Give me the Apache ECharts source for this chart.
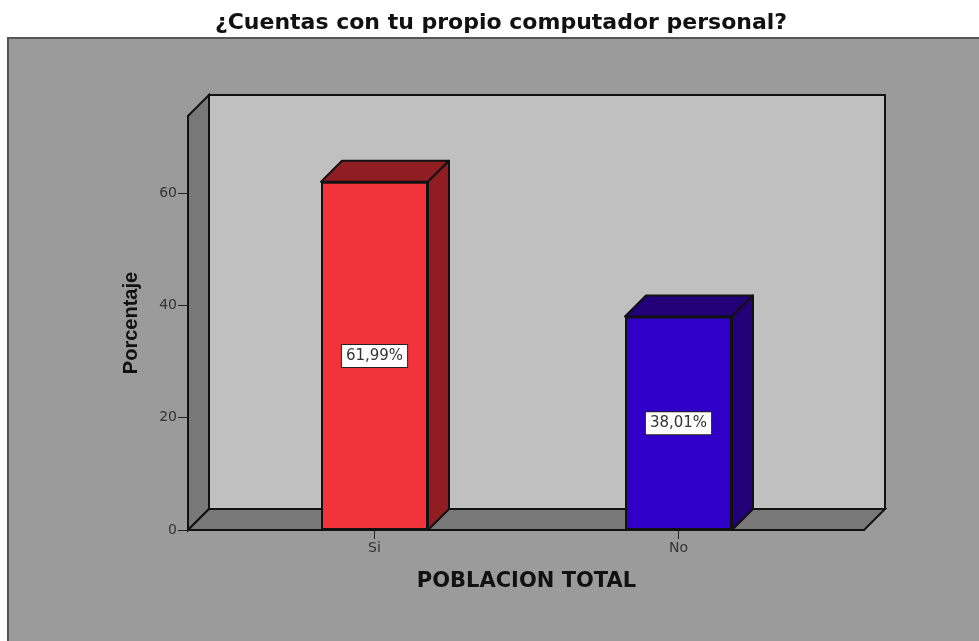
<!DOCTYPE html>
<html>
<head>
<meta charset="utf-8">
<title>Computador personal</title>
<script src="https://cdn.jsdelivr.net/npm/echarts@6/dist/echarts.min.js"></script>
<style>
  html, body { margin: 0; padding: 0; background: #fff; }
  #chart { width: 979px; height: 641px; }
</style>
</head>
<body>
<div id="chart"></div>
<script>
var categories = ['Si', 'No'];
var porcentajes = [61.99, 38.01];
var etiquetas = ['61,99%', '38,01%'];
var yTicks = [0, 20, 40, 60];
var yMax = 73.7;

var frontColors = ['#f2333b', '#3000c8'];
var darkColors = ['#8f1d22', '#210078'];
var depth = 21;
var barWidth = 107;
var lineColor = '#111111';

var myChart = echarts.init(document.getElementById('chart'));

function renderWalls(params, api) {
  var bottomLeft = api.coord([0, 0]);
  var topRight = api.coord([1, yMax]);
  var x0 = bottomLeft[0], y0 = bottomLeft[1], x1 = topRight[0], y1 = topRight[1];
  var edge = { stroke: lineColor, lineWidth: 2 };
  return {
    type: 'group',
    children: [
      {
        type: 'rect',
        shape: { x: x0 + depth, y: y1 - depth, width: x1 - x0, height: y0 - y1 },
        style: Object.assign({ fill: '#c0c0c0' }, edge)
      },
      {
        type: 'polygon',
        shape: { points: [[x0, y1], [x0 + depth, y1 - depth], [x0 + depth, y0 - depth], [x0, y0]] },
        style: Object.assign({ fill: '#787878' }, edge)
      },
      {
        type: 'polygon',
        shape: { points: [[x0, y0], [x0 + depth, y0 - depth], [x1 + depth, y0 - depth], [x1, y0]] },
        style: Object.assign({ fill: '#787878' }, edge)
      }
    ]
  };
}

function renderBarFaces(params, api) {
  var p = api.coord([api.value(0), api.value(1)]);
  var base = api.coord([api.value(0), 0]);
  var left = p[0] - barWidth / 2;
  var right = p[0] + barWidth / 2;
  var style = { fill: darkColors[params.dataIndex], stroke: lineColor, lineWidth: 2, lineJoin: 'round' };
  return {
    type: 'group',
    children: [
      {
        type: 'polygon',
        shape: { points: [[left, p[1]], [left + depth, p[1] - depth], [right + depth, p[1] - depth], [right, p[1]]] },
        style: style
      },
      {
        type: 'polygon',
        shape: { points: [[right, p[1]], [right + depth, p[1] - depth], [right + depth, base[1] - depth], [right, base[1]]] },
        style: style
      }
    ]
  };
}

var option = {
  backgroundColor: '#ffffff',
  animation: false,
  textStyle: { fontFamily: 'DejaVu Sans' },
  title: {
    text: '¿Cuentas con tu propio computador personal?',
    left: 496,
    top: 7,
    textAlign: 'center',
    textStyle: { fontFamily: 'DejaVu Sans', fontWeight: 'bold', fontSize: 22, color: '#111' }
  },
  graphic: [{
    type: 'rect',
    z: -10,
    shape: { x: 8, y: 38, width: 990, height: 620 },
    style: { fill: '#9b9b9b', stroke: '#555', lineWidth: 2 }
  }],
  grid: [
    { left: 188, right: 115, top: 116, bottom: 111 },
    { left: 222.5, right: 148.5, top: 116, bottom: 111 }
  ],
  xAxis: [
    {
      type: 'value',
      gridIndex: 0,
      min: 0,
      max: 1,
      splitLine: { show: false },
      axisTick: { show: false },
      axisLabel: { show: false },
      axisLine: { show: true, lineStyle: { color: lineColor, width: 2 } }
    },
    {
      type: 'category',
      gridIndex: 1,
      data: categories,
      name: 'POBLACION TOTAL',
      nameLocation: 'middle',
      nameGap: 41,
      nameTextStyle: { fontFamily: 'DejaVu Sans', fontWeight: 'bold', fontSize: 21, color: '#111' },
      axisLine: { show: false },
      axisTick: { show: true, alignWithLabel: true, length: 9, lineStyle: { color: '#222', width: 1 } },
      axisLabel: { fontSize: 14, color: '#333', margin: 11 }
    }
  ],
  yAxis: [
    {
      type: 'value',
      gridIndex: 0,
      min: 0,
      max: yMax,
      name: 'Porcentaje',
      nameLocation: 'middle',
      nameGap: 47,
      nameTextStyle: { fontFamily: 'Liberation Sans', fontWeight: 'bold', fontSize: 20, color: '#111' },
      splitLine: { show: false },
      axisLine: { show: true, lineStyle: { color: lineColor, width: 2 } },
      axisTick: { show: true, length: 10, customValues: yTicks, lineStyle: { color: '#222', width: 1 } },
      axisLabel: { fontSize: 14, color: '#333', margin: 11, customValues: yTicks }
    },
    {
      type: 'value',
      gridIndex: 1,
      min: 0,
      max: yMax,
      show: false
    }
  ],
  series: [
    {
      type: 'custom',
      xAxisIndex: 0,
      yAxisIndex: 0,
      z: 1,
      silent: true,
      renderItem: renderWalls,
      data: [[0, 0]]
    },
    {
      type: 'custom',
      xAxisIndex: 1,
      yAxisIndex: 1,
      z: 3,
      silent: true,
      renderItem: renderBarFaces,
      data: categories.map(function (c, i) { return [i, porcentajes[i]]; })
    },
    {
      type: 'bar',
      xAxisIndex: 1,
      yAxisIndex: 1,
      z: 4,
      barWidth: barWidth,
      data: porcentajes.map(function (v, i) {
        return {
          value: v,
          itemStyle: { color: frontColors[i], borderColor: lineColor, borderWidth: 2 }
        };
      }),
      label: {
        show: true,
        position: 'inside',
        formatter: function (p) { return etiquetas[p.dataIndex]; },
        fontFamily: 'DejaVu Sans',
        fontSize: 15,
        color: '#333',
        backgroundColor: '#fff',
        borderColor: '#222',
        borderWidth: 1,
        padding: [4, 4, 3, 4]
      }
    }
  ]
};

myChart.setOption(option);
window.addEventListener('resize', function () {
  myChart.resize();
});
</script>
</body>
</html>
